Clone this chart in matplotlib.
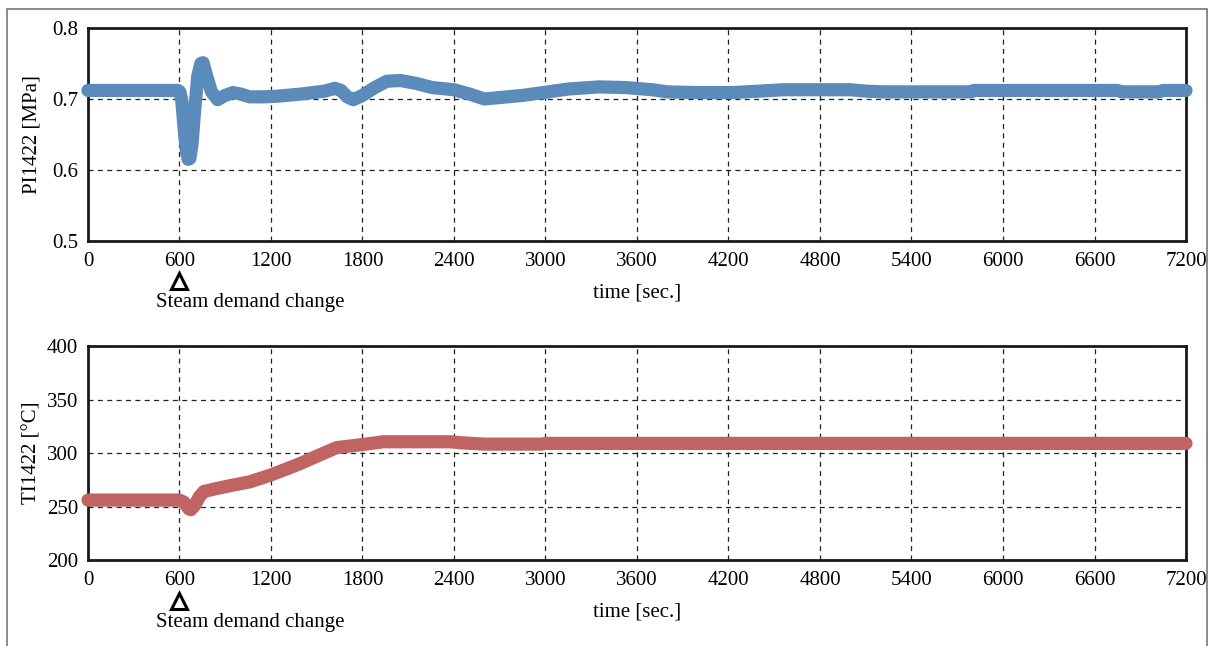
import matplotlib.pyplot as plt
import matplotlib.transforms as mtransforms
from matplotlib.patches import Rectangle
import numpy as np

plt.rcParams['font.family'] = ['Liberation Serif', 'DejaVu Serif']
plt.rcParams['font.size'] = 15

# PI1422 pressure trend [MPa]
t_pres = [0, 590, 603, 615, 630, 645, 657, 668, 682, 700, 720, 740, 755, 775, 810,
          850, 900, 950, 1000, 1060, 1150, 1250, 1400, 1550, 1620, 1660, 1700, 1740,
          1800, 1880, 1960, 2050, 2150, 2260, 2400, 2500, 2600, 2700, 2850, 2984,
          3150, 3350, 3530, 3700, 3800, 4000, 4230, 4400, 4560, 5000, 5100, 5215,
          5790, 5810, 6750, 6780, 7020, 7050, 7200]
pres = [0.712, 0.712, 0.710, 0.698, 0.660, 0.627, 0.615, 0.616, 0.635, 0.685, 0.732,
        0.750, 0.751, 0.735, 0.710, 0.699, 0.705, 0.709, 0.707, 0.703, 0.703, 0.704,
        0.707, 0.711, 0.715, 0.712, 0.703, 0.699, 0.705, 0.716, 0.725, 0.726, 0.722,
        0.716, 0.713, 0.707, 0.700, 0.702, 0.705, 0.709, 0.714, 0.717, 0.716, 0.713,
        0.710, 0.709, 0.709, 0.711, 0.713, 0.713, 0.711, 0.710, 0.710, 0.712, 0.712,
        0.710, 0.710, 0.712, 0.712]

# TI1422 temperature trend [degC]
t_temp = [0, 600, 630, 660, 675, 700, 730, 760, 850, 950, 1060, 1190, 1300, 1390,
          1500, 1630, 1805, 1936, 2374, 2450, 2600, 2975, 3000, 7200]
temp = [256, 256, 254, 248, 247, 251, 259, 264, 267, 270, 273, 279, 285, 290,
        297, 305, 308, 310.5, 310.5, 309.5, 308.3, 308.3, 309, 309]

x_ticks = np.arange(0, 7201, 600)
event_time = 600

fig = plt.figure(figsize=(12.08, 6.46), dpi=100)
fig.patches.append(Rectangle((0.0062, -0.1), 0.9926, 1.0853, transform=fig.transFigure,
                             fill=False, edgecolor='#777777', linewidth=1.2))

ax1 = fig.add_axes([0.0728, 0.627, 0.909, 0.3297])
ax2 = fig.add_axes([0.0728, 0.1331, 0.909, 0.3313])


def style_axis(ax, yticks, ylabel, yfmt):
    ax.set_xlim(0, 7200)
    ax.set_xticks(x_ticks)
    ax.set_ylim(yticks[0], yticks[-1])
    ax.set_yticks(yticks)
    ax.set_yticklabels([yfmt.format(v) for v in yticks])
    ax.tick_params(length=0, pad=8)
    ax.tick_params(axis='y', pad=7)
    ax.grid(True, color='#222222', linestyle=(0, (4, 3.5)), linewidth=0.9)
    ax.set_axisbelow(True)
    for s in ax.spines.values():
        s.set_linewidth(2.0)
        s.set_color('#1a1a1a')
    ax.set_ylabel(ylabel)
    ax.yaxis.set_label_coords(-0.042, 0.5)
    ax.set_xlabel('time [sec.]')
    ax.xaxis.set_label_coords(0.5, -0.2)
    # mark the steam demand step below the axis
    trans = mtransforms.blended_transform_factory(ax.transData, ax.transAxes)
    ax.plot([event_time], [-0.19], transform=trans, marker='^', markersize=12,
            markerfacecolor='none', markeredgecolor='black', markeredgewidth=2.2,
            clip_on=False)
    ax.text(0.1475, -0.29, 'Steam demand change', transform=ax.transAxes,
            ha='center', va='center')


ax1.plot(t_pres, pres, color='#5b8bba', linewidth=9.5, solid_capstyle='round',
         solid_joinstyle='round', clip_on=False, zorder=3)
style_axis(ax1, [0.5, 0.6, 0.7, 0.8], 'PI1422 [MPa]', '{:.1f}')

ax2.plot(t_temp, temp, color='#c06363', linewidth=9.5, solid_capstyle='round',
         solid_joinstyle='round', clip_on=False, zorder=3)
style_axis(ax2, [200, 250, 300, 350, 400], 'TI1422 [°C]', '{:.0f}')

fig.savefig('out.png', dpi=100)
